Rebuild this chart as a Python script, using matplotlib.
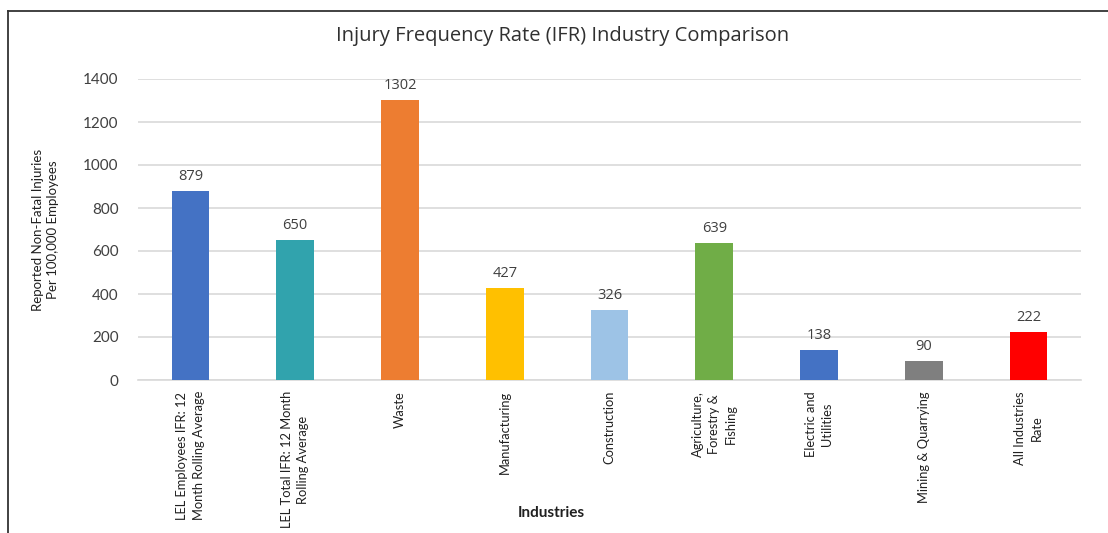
import matplotlib
matplotlib.use("Agg")
import matplotlib.pyplot as plt
from matplotlib.lines import Line2D

categories = [
    "LEL Employees IFR: 12\nMonth Rolling Average",
    "LEL Total IFR: 12 Month\nRolling Average",
    "Waste",
    "Manufacturing",
    "Construction",
    "Agriculture,\nForestry &\nFishing",
    "Electric and\nUtilities",
    "Mining & Quarrying",
    "All Industries\nRate",
]
values = [879, 650, 1302, 427, 326, 639, 138, 90, 222]
colors = ["#4472C4", "#31A3AD", "#ED7D31", "#FFC000", "#9DC3E6",
          "#70AD47", "#4472C4", "#7F7F7F", "#FF0000"]
yticks = [0, 200, 400, 600, 800, 1000, 1200, 1400]

fig = plt.figure(figsize=(11.08, 5.33), dpi=100)
ax = fig.add_axes([138/1108, 153/533, (1081-138)/1108, (380-79)/533])

x = list(range(len(categories)))
bars = ax.bar(x, values, width=0.36, color=colors, zorder=3)
ax.set_xlim(-0.5, len(categories) - 0.5)
ax.set_ylim(0, 1400)
ax.set_yticks(yticks)
ax.set_yticklabels([str(v) for v in yticks], fontsize=11, family="Lato", color="#404040")
ax.set_xticks(x)
ax.set_xticklabels(categories, rotation=90, fontsize=9.3, family="Lato",
                   va="top", ha="center", multialignment="center",
                   linespacing=1.45, color="#202020")
ax.tick_params(axis="both", length=0)
ax.tick_params(axis="y", pad=14)
ax.tick_params(axis="x", pad=8)
ax.grid(axis="y", color="#D9D9D9", linewidth=1.2, zorder=0)
for s in ["top", "right", "left"]:
    ax.spines[s].set_visible(False)
ax.spines["bottom"].set_color("#D9D9D9")
ax.spines["bottom"].set_linewidth(1.2)

for xi, v in zip(x, values):
    ax.annotate(str(v), (xi, v), xytext=(0, 5), textcoords="offset points",
                ha="center", va="bottom", fontsize=10.5, family="Open Sans", color="#404040")

fig.text(563/1108, 1 - 36/533, "Injury Frequency Rate (IFR) Industry Comparison",
         ha="center", va="center", fontsize=14.5, family="Open Sans", color="#303030")
fig.text(46/1108, 1 - 230/533, "Reported Non-Fatal Injuries\nPer 100,000 Employees",
         rotation=90, ha="center", va="center", multialignment="center",
         fontsize=9.5, family="Lato", linespacing=1.3, color="#202020")
fig.text(551/1108, 1 - 513/533, "Industries", ha="center", va="center",
         fontsize=11, family="Lato", weight="bold", color="#202020")

fig.add_artist(Line2D([8/1108, 8/1108], [0, 1 - 11/533], color="#333333", linewidth=1.3, transform=fig.transFigure))
fig.add_artist(Line2D([8/1108, 1], [1 - 11/533, 1 - 11/533], color="#333333", linewidth=1.3, transform=fig.transFigure))

fig.savefig("out.png", dpi=100)
